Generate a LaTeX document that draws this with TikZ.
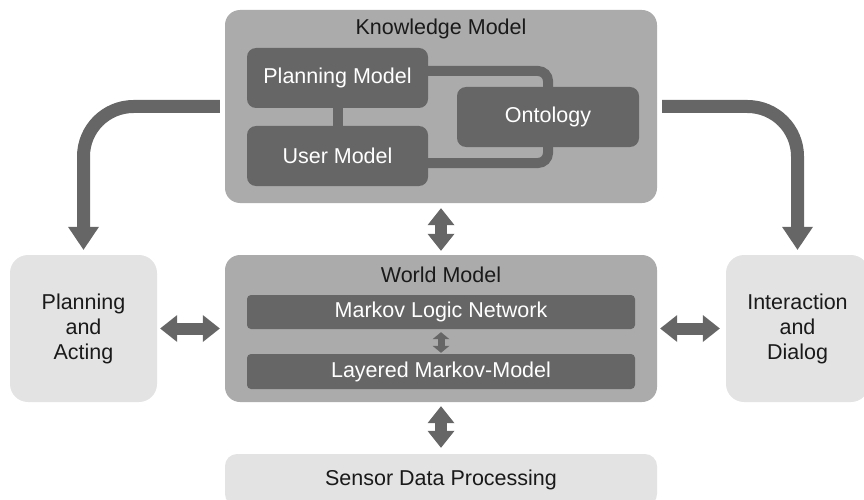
\documentclass[tikz,border=0pt]{standalone}
\usepackage{fontspec}
\setmainfont{Liberation Sans}
\usetikzlibrary{calc,positioning,arrows.meta}
\definecolor{darkgrey}{HTML}{666666}
\definecolor{midgrey}{HTML}{ABABAB}
\definecolor{lightgrey}{HTML}{E3E3E3}
\definecolor{inkgrey}{HTML}{1A1A1A}
\tikzset{
	% ------- every something
	every node/.style={
		font=\fontsize{21.5}{25}\selectfont,
		inner sep=0pt,
	},
	% ------- custom
	outer box/.style={
		fill=midgrey,
		rounded corners=15pt,
		minimum width=432pt,
	},
	inner box/.style={
		fill=darkgrey, text=white,
		rounded corners=9pt,
		minimum width=181pt, minimum height=60pt,
	},
	layer box/.style={
		fill=darkgrey, text=white,
		rounded corners=4pt,
		minimum width=388pt, minimum height=34pt,
	},
	side box/.style={
		fill=lightgrey, text=inkgrey,
		rounded corners=18pt,
		minimum height=147pt,
		align=center,
	},
	title/.style={
		text=inkgrey,
	},
	link/.style={
		darkgrey, line width=10pt,
		rounded corners=10pt,
	},
	big arrow/.style={
		darkgrey, line width=13pt,
		rounded corners=50pt,
		-{Triangle[length=23pt,width=31pt,line width=0pt]},
	},
	double arrow/.style={
		darkgrey, line width=12pt,
		{Triangle[length=17pt,width=27pt,line width=0pt]}-{Triangle[length=17pt,width=27pt,line width=0pt]},
	},
	small arrow/.style={
		darkgrey, line width=7pt,
		{Triangle[length=7pt,width=17pt,line width=0pt]}-{Triangle[length=7pt,width=17pt,line width=0pt]},
	},
}

\begin{document}
\begin{tikzpicture}[x=1pt,y=-1pt]

% frame %{{{1

	\clip (0,0) rectangle (864,500);

% coordinates %{{{1

	\coordinate (K) at (441,106.5);
	\coordinate (W) at (441,328.5);
	\coordinate (S) at (441,480);
	\coordinate (PA) at (83.5,328.5);
	\coordinate (ID) at (797.5,328.5);

% knowledge model %{{{1

	\node[outer box, minimum height=193pt] (knowledge) at (K) {};
	\node[title] (kmtitle) at ($(knowledge.north)+(0,19)$) {Knowledge Model};

	\node[inner box] (planmodel) at (337.5,78) {Planning Model};
	\node[inner box] (usermodel) at (337.5,156) {User Model};
	\node[inner box, minimum width=182pt] (ontology) at (548,117) {Ontology};

	\draw[link] (planmodel.south) -- (usermodel.north);
	\draw[link] ([yshift=7pt]planmodel.east) -| (ontology.north);
	\draw[link] ([yshift=-7pt]usermodel.east) -| (ontology.south);

% world model %{{{1

	\node[outer box, minimum height=147pt] (world) at (W) {};
	\node[title] (wmtitle) at ($(world.north)+(0,20)$) {World Model};

	\node[layer box] (mln) at (441,312) {Markov Logic Network};
	\node[layer box, minimum height=35pt] (lmm) at (441,371.5) {Layered Markov-Model};

	\draw[small arrow] ([yshift=-3pt]mln.south) -- ([yshift=1pt]lmm.north);

% side boxes %{{{1

	\node[side box, minimum width=147pt] (acting) at (PA) {Planning\\and\\Acting};
	\node[side box, minimum width=143pt] (dialog) at (ID) {Interaction\\and\\Dialog};

	\node[fill=lightgrey, text=inkgrey, rounded corners=12pt,
		minimum width=432pt, minimum height=52pt] (sensor) at (S) {Sensor Data Processing};

% arrows %{{{1

	\draw[big arrow] ([xshift=-5pt]knowledge.west) -| ([yshift=5pt]acting.north);
	\draw[big arrow] ([xshift=5pt]knowledge.east) -| ([yshift=5pt]dialog.north);

	\draw[double arrow] ([yshift=-5pt]knowledge.south) -- ([yshift=4pt]world.north);
	\draw[double arrow] ([yshift=-4pt]world.south) -- ([yshift=6pt]sensor.north);
	\draw[double arrow] ([xshift=3pt]acting.east) -- ([xshift=-5pt]world.west);
	\draw[double arrow] ([xshift=3pt]world.east) -- ([xshift=-6pt]dialog.west);

% closing %{{{1

\end{tikzpicture}
\end{document}
